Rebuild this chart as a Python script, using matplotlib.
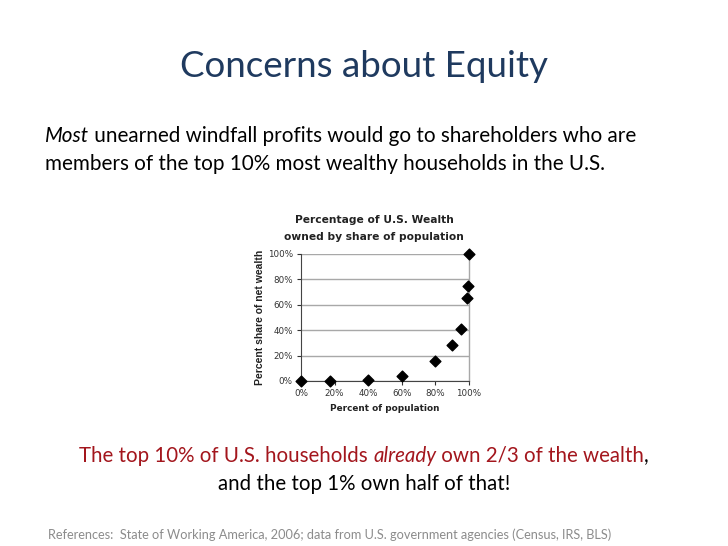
import numpy as np
import matplotlib
matplotlib.use("Agg")
import matplotlib.pyplot as plt
from matplotlib.ticker import FuncFormatter

# data
pop_pct = [0, 17, 40, 60, 80, 90, 95, 99, 99.5, 100]
wealth_pct = [0, 0, 0.5, 4, 15.5, 28.5, 41, 65.5, 75, 100]
x_ticks = [0, 20, 40, 60, 80, 100]
y_ticks = [0, 20, 40, 60, 80, 100]

SLIDE_FONT = "Lato"
CHART_FONT = "DejaVu Sans"
W, H = 728, 546

fig = plt.figure(figsize=(W / 100, H / 100), dpi=100)
renderer = fig.canvas.get_renderer()


def seg_width(txt, **kw):
    t = fig.text(0, 0, txt, **kw)
    w = t.get_window_extent(renderer).width
    t.remove()
    return w


def draw_line(segments, y_px, x_px=None, center=None):
    # segments: list of (text, kwargs)
    widths = [seg_width(s, **kw) for s, kw in segments]
    if center is not None:
        x_px = center - sum(widths) / 2
    for (s, kw), w in zip(segments, widths):
        fig.text(x_px / W, 1 - y_px / H, s, va="baseline", ha="left", **kw)
        x_px += w


# slide title
fig.text(364 / W, 1 - 77 / H, "Concerns about Equity", ha="center", va="baseline",
         fontsize=26.5, color="#1F3A5F", family=SLIDE_FONT)

body = dict(fontsize=14.9, color="black", family=SLIDE_FONT)
body_it = dict(body, style="italic")
draw_line([("Most", body_it), (" unearned windfall profits would go to shareholders who are", body)],
          142, x_px=45)
draw_line([("members of the top 10% most wealthy households in the U.S.", body)], 170, x_px=45)

red = dict(fontsize=14.8, color="#A3161D", family=SLIDE_FONT)
red_it = dict(red, style="italic")
blk = dict(fontsize=14.8, color="black", family=SLIDE_FONT)
draw_line([("The top 10% of U.S. households ", red), ("already", red_it),
           (" own 2/3 of the wealth", red), (",", blk)], 462, center=364)
draw_line([("and the top 1% own half of that!", blk)], 490, center=364)

fig.text(48 / W, 1 - 539 / H,
         "References:  State of Working America, 2006; data from U.S. government agencies (Census, IRS, BLS)",
         fontsize=9.2, color="#8C8C8C", family=SLIDE_FONT, va="baseline")

# the small scatter chart
ax = fig.add_axes([301 / W, 1 - 381 / H, 168 / W, 127 / H])
ax.scatter(pop_pct, wealth_pct, marker="D", s=30, color="black", zorder=3, clip_on=False)
ax.set_xlim(0, 100)
ax.set_ylim(0, 100)
ax.set_xticks(x_ticks)
ax.set_yticks(y_ticks)
pct = FuncFormatter(lambda v, p: f"{v:.0f}%")
ax.xaxis.set_major_formatter(pct)
ax.yaxis.set_major_formatter(pct)
ax.tick_params(labelsize=6.3, colors="#333333", length=3, width=0.8, direction="out", pad=3)
ax.grid(axis="y", color="#A8A8A8", linewidth=1)
ax.set_axisbelow(True)
ax.spines["top"].set_visible(False)
ax.spines["right"].set_color("#A8A8A8")
ax.spines["right"].set_linewidth(1)
ax.spines["left"].set_color("#444444")
ax.spines["bottom"].set_color("#444444")
ax.set_xlabel("Percent of population", fontsize=6.4, fontweight="bold", family=CHART_FONT,
              color="#222222", labelpad=4)
ax.set_ylabel("Percent share of net wealth", fontsize=7.5, fontweight="bold",
              family="Liberation Sans", color="#222222", labelpad=2)
for lab in ax.get_xticklabels() + ax.get_yticklabels():
    lab.set_family(CHART_FONT)

# chart title, placed a little left of the plot centre as in the picture
fig.text(374 / W, 1 - 223 / H, "Percentage of U.S. Wealth", ha="center", va="baseline",
         fontsize=7.7, fontweight="bold", family=CHART_FONT, color="#222222")
fig.text(374 / W, 1 - 240 / H, "owned by share of population", ha="center", va="baseline",
         fontsize=7.7, fontweight="bold", family=CHART_FONT, color="#222222")

fig.savefig("out.png", dpi=100)
